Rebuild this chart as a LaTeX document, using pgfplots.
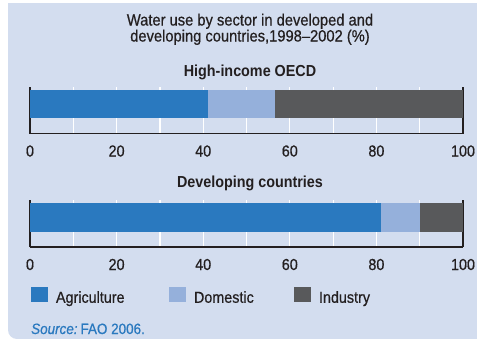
\documentclass[border=0pt]{standalone}
\usepackage{fontspec}
\setmainfont{Liberation Sans}[FakeStretch=0.9,
  UprightFeatures={FakeBold=0.6}, ItalicFeatures={FakeBold=0.6}]
\usepackage{pgfplots}
\pgfplotsset{compat=1.18}

\definecolor{panel}{HTML}{D3DDEF}
\definecolor{agri}{HTML}{2A79BF}
\definecolor{dom}{HTML}{95B0DB}
\definecolor{ind}{HTML}{58595B}
\definecolor{ink}{HTML}{231F20}

\pgfplotsset{
  sectorbar/.style={
    xbar stacked,
    scale only axis,
    width=433bp, height=47bp,
    xmin=0, xmax=100, ymin=0, ymax=1,
    bar width=28.5bp,
    ytick=\empty,
    xtick={0,20,...,100},
    minor xtick={10,30,...,90},
    major tick length=0pt, minor tick length=0pt,
    grid=both,
    major grid style={white, line width=1.2bp},
    minor grid style={white, line width=1.2bp},
    axis x line*=bottom, axis y line*=box,
    x axis line style={line width=1.4bp, -, ink},
    y axis line style={line width=2.2bp, -, ink},
    /pgf/number format/assume math mode=true,
    xticklabel style={font=\fontsize{16}{16}\selectfont, text=ink, anchor=base, yshift=-23bp},
    anchor=south west,
  },
}

\begin{document}
\begin{tikzpicture}
\useasboundingbox (0,0) rectangle (477bp,-339bp);
% panel
\fill[panel] (490bp,-3bp) -- (8bp,-3bp) [rounded corners=9bp] -- (8bp,-339bp) [sharp corners] -- (490bp,-339bp) -- cycle;

% titles
\node[anchor=base, text=ink, font=\fontsize{16.4}{16}\selectfont, inner sep=0pt] at (250bp,-25.5bp) {Water use by sector in developed and};
\node[anchor=base, text=ink, font=\fontsize{16.4}{16}\selectfont, inner sep=0pt] at (250bp,-41.5bp) {developing countries,1998--2002 (\%)};
\node[anchor=base, text=ink, font=\fontsize{16}{16}\selectfont\bfseries] at (250bp,-76bp) {High-income OECD};
\node[anchor=base, text=ink, font=\fontsize{16}{16}\selectfont\bfseries] at (250bp,-187bp) {Developing countries};

% High-income OECD
\begin{axis}[sectorbar, at={(30bp,-133.5bp)}]
\addplot[fill=agri, draw=none, forget plot] coordinates {(41,0.632)};
\addplot[fill=dom, draw=none, forget plot] coordinates {(15.5,0.632)};
\addplot[fill=ind, draw=none, forget plot] coordinates {(43.5,0.632)};
\end{axis}

% Developing countries
\begin{axis}[sectorbar, at={(30bp,-247bp)},
  legend style={at={(0.0023,-0.851)}, anchor=north west, draw=none, fill=none,
    inner sep=0pt, outer sep=0pt, legend columns=3,
    nodes={inner sep=0pt, text=ink, font=\fontsize{16}{16}\selectfont},
    /tikz/every odd column/.append style={column sep=8bp},
    /tikz/every even column/.append style={column sep=0bp}},
  legend cell align=left,
  legend image code/.code={\fill[#1] (0bp,-4.25bp) rectangle (17bp,10.75bp);},
]
\addplot[fill=agri, draw=none] coordinates {(81,0.632)};
\addlegendentry{\makebox[113bp][l]{Agriculture}}
\addplot[fill=dom, draw=none] coordinates {(9,0.632)};
\addlegendentry{\makebox[100bp][l]{Domestic}}
\addplot[fill=ind, draw=none] coordinates {(10,0.632)};
\addlegendentry{Industry}
\end{axis}

% source
\node[anchor=base west, text=agri, font=\fontsize{15}{15}\selectfont, inner sep=0pt] at (31bp,-334bp) {\textit{Source:}\hspace{0.2em}FAO 2006.};
\end{tikzpicture}
\end{document}
